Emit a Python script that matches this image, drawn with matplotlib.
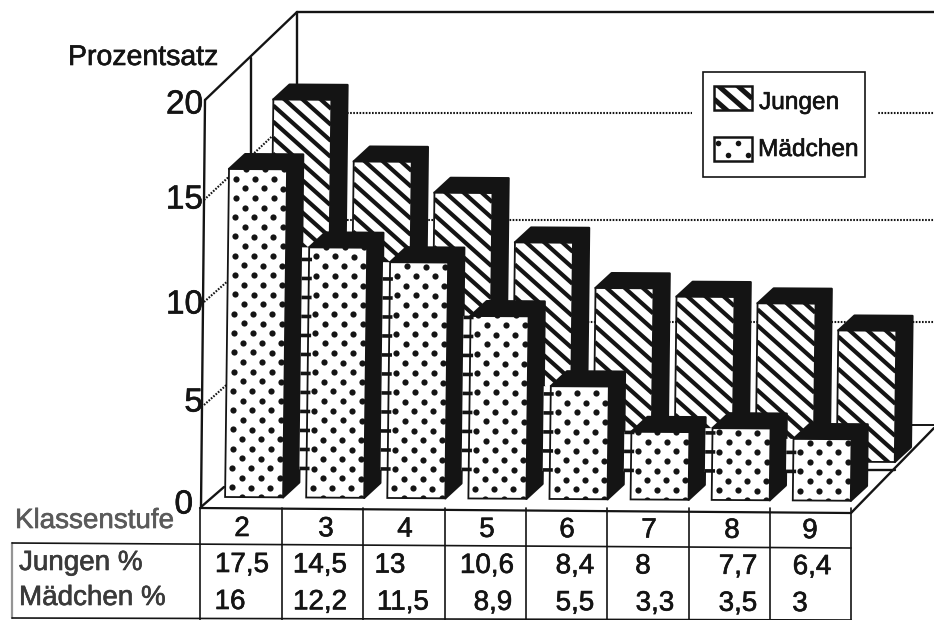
import numpy as np
import matplotlib
matplotlib.use("Agg")
import matplotlib.pyplot as plt
import matplotlib.patheffects as pe
from matplotlib.collections import LineCollection
from matplotlib.patches import Polygon, Rectangle

plt.rcParams["font.family"] = ["Liberation Sans", "DejaVu Sans"]

# data
klassen = ["2", "3", "4", "5", "6", "7", "8", "9"]
jungen = [17.5, 14.5, 13, 10.6, 8.4, 8, 7.7, 6.4]
maedchen = [16, 12.2, 11.5, 8.9, 5.5, 3.3, 3.5, 3]
jungen_txt = ["17,5", "14,5", "13", "10,6", "8,4", "8", "7,7", "6,4"]
maedchen_txt = ["16", "12,2", "11,5", "8,9", "5,5", "3,3", "3,5", "3"]
y_ticks = [0, 5, 10, 15, 20]

# picture scale, everything is in pixels of the 934x620 page
K = 20.5
STEP = 81.1
W = 58
DX, DY = 16, 15
INK = "#141414"

fig = plt.figure(figsize=(9.34, 6.2), dpi=100)
ax = fig.add_axes([0, 0, 1, 1])
ax.set_xlim(0, 934)
ax.set_ylim(620, 0)
ax.axis("off")


# the scan sits slightly rotated on the page
def tilt(x, y):
    return x - (y - 170) * 0.012, y + (x - 229) * 0.006


def flat(x, y):
    return x, y


def line(xs, ys, lw=1.4, z=1, **kw):
    ax.plot(xs, ys, color=INK, lw=lw, zorder=z, solid_capstyle="round", **kw)


def txt(x, y, s, size=20, color=INK, ha="center", stroke=0.45, z=12):
    t = ax.text(x, y, s, fontsize=size, color=color, ha=ha, va="center", zorder=z)
    t.set_path_effects([pe.withStroke(linewidth=stroke, foreground=color)])


def corners(rect, tf):
    x, y, w, h = rect
    return [tf(x, y), tf(x + w, y), tf(x + w, y + h), tf(x, y + h)]


def stripes(rect, tf=flat, step=16, lw=3.0, z=3):
    x, y, w, h = rect
    segs = []
    for c in np.arange(-w, h + 1, step):
        segs.append([tf(x, y + c), tf(x + w, y + c + 0.88 * w)])
    lc = LineCollection(segs, colors=INK, linewidths=lw, zorder=z)
    ax.add_collection(lc)
    lc.set_clip_path(Polygon(corners(rect, tf), transform=ax.transData))


def dots(rect, tf=flat, xstep=19, ystep=9.65, first=0, offs=(16.5, 7), s=20, z=3):
    x, y, w, h = rect
    pts = []
    for r, yy in enumerate(np.arange(y + h - first, y - 3, -ystep)):
        for xx in np.arange(x + offs[r % 2], x + w + 3, xstep):
            pts.append(tf(xx, yy))
    sc = ax.scatter(*zip(*pts), s=s, color=INK, lw=0, zorder=z)
    sc.set_clip_path(Polygon(corners(rect, tf), transform=ax.transData))


def bar(i, val, x0, base, texture, z, ladder=False):
    x = x0 + i * STEP
    top = base - val * K
    shape = [(x, top), (x + DX, top - DY), (x + W + DX, top - DY),
             (x + W + DX, base - DY), (x + W, base), (x + W, top)]
    ax.add_patch(Polygon([tilt(*p) for p in shape], closed=True, fc=INK, ec=INK,
                         lw=1.6, joinstyle="round", zorder=z))
    if ladder:
        # white strip with the dots running out left of the front row bars
        gap = x - (x - STEP + W + DX)
        ax.add_patch(Polygon(corners((x - gap, top, gap, base - 28 - top), tilt),
                             fc="white", ec="none", zorder=z))
        for yy in np.arange(base - 29, top, -19):
            xa, ya = tilt(x - gap, yy)
            xb, yb = tilt(x + 3, yy)
            ax.plot([xa, xb], [ya, yb], color=INK, lw=2.6, zorder=z + 0.6, solid_capstyle="butt")
    face = (x, top, W, val * K)
    ax.add_patch(Polygon(corners(face, tilt), fc="white", ec=INK, lw=1.3, zorder=z + 0.1))
    texture(face, tf=tilt, z=z + 0.5)


# walls
line([205, 201], [100, 508], lw=1.7)
line([251, 251], [58, 470], lw=1.7)
line([297, 297], [12, 425], lw=1.7)
line([205, 297], [100, 12], lw=1.7)
line([297, 934], [12, 12], lw=1.7)
line([201, 224], [507, 487], lw=1.7)
line([851, 934], [513, 428], lw=1.7)
line([868, 934], [425, 425], lw=1.4)
line([868, 895], [470, 470], lw=1.7)

# dotted grid on the back wall and the side wall
for gy, fy in zip([322, 220, 113], [405, 302, 200]):
    ax.plot([297, 934], [gy, gy], color=INK, lw=1.5, ls=(0, (0.8, 0.7)), zorder=1)
    ax.plot([204, 297], [fy, gy], color=INK, lw=1.5, ls=(0, (0.8, 0.7)), zorder=1)

# bars, back row first
for i, v in enumerate(jungen):
    bar(i, v, 272.5, 458, stripes, 2)
for i, v in enumerate(maedchen):
    bar(i, v, 229, 497, dots, 5, ladder=i > 0)

# legend
ax.add_patch(Rectangle((692, 66), 185, 116, fc="white", ec="none", zorder=8))
ax.add_patch(Rectangle((703, 72), 162, 105, fc="white", ec=INK, lw=1.2, zorder=9))
ax.add_patch(Rectangle((714, 86), 38, 24, fc="white", ec=INK, lw=1.8, zorder=10))
ax.add_patch(Rectangle((714, 137), 38, 24, fc="white", ec=INK, lw=1.8, zorder=10))
stripes((714, 86, 38, 24), step=17, lw=3.6, z=10.5)
dots((714, 137, 38, 24), xstep=20, ystep=12, first=6, offs=(14, 4), s=16, z=10.5)
txt(759, 103, "Jungen", size=17.6, ha="left")
txt(758, 150, "Mädchen", size=17.6, ha="left")

# axis texts
txt(68, 58, "Prozentsatz", size=20.5, ha="left")
for v, ty in zip(y_ticks, [505, 403, 305, 200, 105]):
    txt(203 if v else 193, ty, str(v), size=24, ha="right")

# table
col_x = [200, 282, 363, 445, 526, 607, 689, 770, 851]
line([200, 851], [508, 513], lw=1.6)
line([12, 851], [543, 548], lw=1.2)
line([12, 851], [618, 620], lw=1.2)
line([12, 12], [543, 618], lw=1.6, alpha=0.45)
for cx in col_x:
    line([cx, cx], [508, 620], lw=1.2)

txt(15, 521, "Klassenstufe", size=20, color="#5a5a5a", ha="left")
txt(19, 563, "Jungen %", size=20, color="#3a3a3a", ha="left")
txt(19, 598, "Mädchen %", size=20, color="#3a3a3a", ha="left")

kopf_x = [242, 326, 405, 487, 567, 649, 732, 810]
jungen_x = [242, 320, 390, 487, 575, 643, 738, 812]
maedchen_x = [230, 320, 403, 493, 575, 655, 738, 800]
for i, k in enumerate(klassen):
    txt(kopf_x[i], 529 + i * 0.3, k)
    txt(jungen_x[i], 565 + i * 0.3, jungen_txt[i])
    txt(maedchen_x[i], 602 + i * 0.3, maedchen_txt[i])

fig.savefig("out.png", dpi=100)
